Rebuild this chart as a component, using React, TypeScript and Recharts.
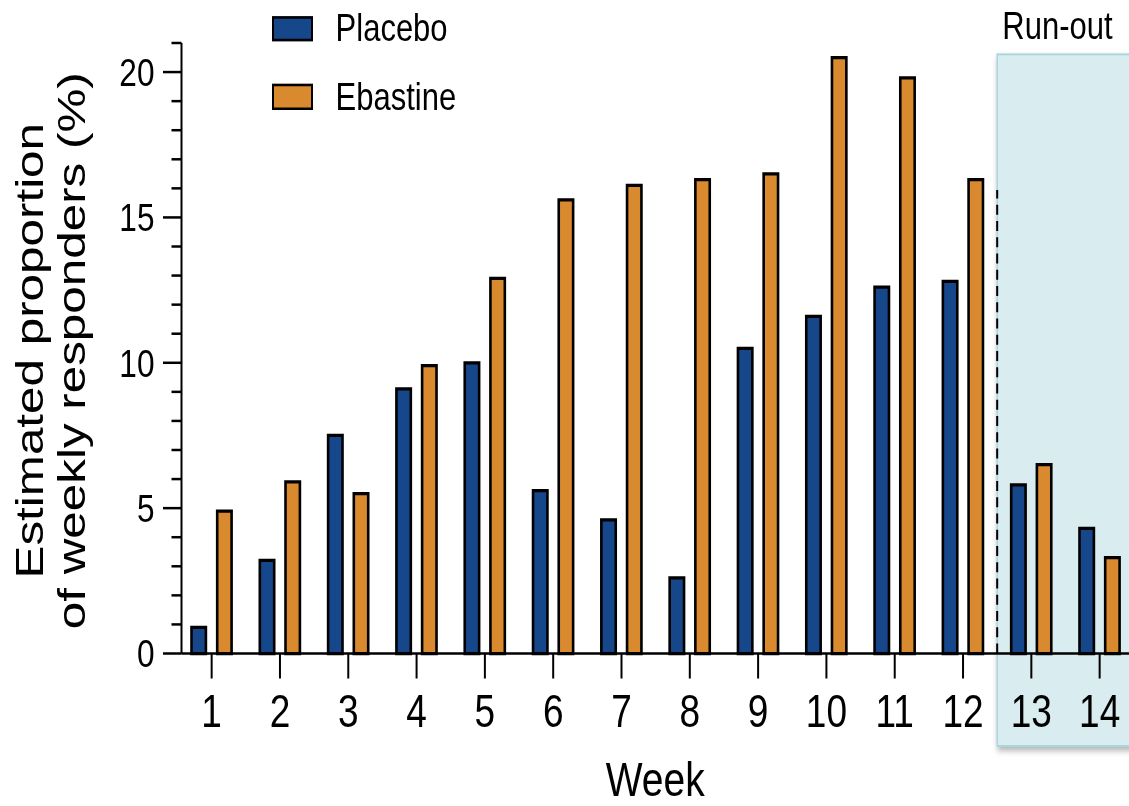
import { BarChart, Bar, XAxis, YAxis, Legend, ReferenceArea, ReferenceLine } from 'recharts'

const weeks = ['1', '2', '3', '4', '5', '6', '7', '8', '9', '10', '11', '12', '13', '14']
const placebo = [0.9, 3.2, 7.5, 9.1, 10.0, 5.6, 4.6, 2.6, 10.5, 11.6, 12.6, 12.8, 5.8, 4.3]
const ebastine = [4.9, 5.9, 5.5, 9.9, 12.9, 15.6, 16.1, 16.3, 16.5, 20.5, 19.8, 16.3, 6.5, 3.3]
const yTicks = [0, 1, 2, 3, 4, 5, 6, 7, 8, 9, 10, 11, 12, 13, 14, 15, 16, 17, 18, 19, 20, 21]
const seriesOrder = ['Placebo', 'Ebastine']

const data = weeks.map((week, i) => ({ week, placebo: placebo[i], ebastine: ebastine[i] }))

const FONT = '"Liberation Sans", Arial, sans-serif'
// the reference picture is stretched vertically, so the chart is drawn flat and scaled
const STRETCH = 1.25

const YTick = (props: any) => {
  const { x, y, payload } = props
  const major = payload.value % 5 === 0
  return (
    <g>
      <line x1={x} x2={x - (major ? 18.5 : 10)} y1={y} y2={y} stroke="#000" strokeWidth={2} />
      {major && (
        <text x={x - 27} y={y} dy={11} textAnchor="end" fontSize={31.6} fontFamily={FONT} fill="#000">
          {payload.value}
        </text>
      )}
    </g>
  )
}

const XTick = (props: any) => {
  const { x, y, payload } = props
  return (
    <text x={x} y={y} dy={36.8} textAnchor="middle" fontSize={37} fontFamily={FONT} fill="#000">
      {payload.value}
    </text>
  )
}

const YTitle = (props: any) => {
  const { viewBox } = props
  const cy = viewBox.y + viewBox.height / 2 + 2
  return (
    <g fontFamily={FONT} fontSize={39.5} fill="#000" textAnchor="middle">
      <text x={43} y={cy} transform={`rotate(-90 43 ${cy})`}>Estimated proportion</text>
      <text x={85} y={cy} transform={`rotate(-90 85 ${cy})`}>of weekly responders (%)</text>
    </g>
  )
}

const RunoutBox = (props: any) => {
  const { x, y, width, height } = props
  return (
    <g>
      <defs>
        <filter id="boxShadow" x="-10%" y="-5%" width="125%" height="115%">
          <feDropShadow dx="1" dy="3" stdDeviation="2.5" floodColor="#000" floodOpacity="0.3" />
        </filter>
      </defs>
      <rect x={x} y={y} width={width} height={height} fill="#d9ecef" stroke="#a7d6db" strokeWidth={1.5} filter="url(#boxShadow)" />
    </g>
  )
}

const renderLegend = (props: any) => {
  const items = [...props.payload].sort(
    (a: any, b: any) => seriesOrder.indexOf(a.value) - seriesOrder.indexOf(b.value)
  )
  return (
    <div style={{ fontFamily: FONT, fontSize: 31, color: '#000' }}>
      {items.map((entry: any) => (
        <div key={entry.value} style={{ display: 'flex', alignItems: 'center', height: 54.4 }}>
          <span
            style={{
              width: 41.6,
              height: 20.6,
              background: entry.color,
              border: '2px solid #000',
              boxSizing: 'border-box',
              display: 'inline-block',
            }}
          />
          <span style={{ marginLeft: 22.3 }}>{entry.value}</span>
        </div>
      ))}
    </div>
  )
}

export default function App() {
  return (
    <div style={{ position: 'absolute', left: 0, top: 0, width: 1129, height: 806, overflow: 'hidden', background: '#fff' }}>
      <div style={{ width: 1129, height: 645, transform: `scaleY(${STRETCH})`, transformOrigin: '0 0' }}>
        <BarChart
          width={1129}
          height={645}
          data={data}
          barSize={14.4}
          barGap={11.3}
          margin={{ top: 34.4, right: 0, bottom: 0, left: 0 }}
        >
          <ReferenceArea
            x1="13"
            x2="14"
            y1={-3.18}
            y2={20.61}
            ifOverflow="visible"
            shape={RunoutBox}
            label={{ value: 'Run-out', position: 'top', offset: 12.5, dx: -8, fontSize: 31, fontFamily: FONT, fill: '#000' }}
          />
          <ReferenceLine
            segment={[{ x: '13', y: 0 }, { x: '13', y: 15.94 }]}
            position="start"
            ifOverflow="visible"
            stroke="#000"
            strokeWidth={2}
            strokeDasharray="8 5"
          />
          <XAxis
            dataKey="week"
            interval={0}
            height={122.2}
            padding={{ left: -4, right: -4.8 }}
            tickSize={20}
            tickLine={{ stroke: '#000', strokeWidth: 2 }}
            axisLine={{ stroke: '#000', strokeWidth: 2 }}
            tick={XTick}
            label={{ value: 'Week', position: 'insideBottom', offset: 8.5, fontSize: 39, fontFamily: FONT, fill: '#000' }}
          />
          <YAxis
            type="number"
            domain={[0, 21]}
            ticks={yTicks}
            interval={0}
            width={181.5}
            tickSize={0}
            tickMargin={0}
            tickLine={false}
            axisLine={{ stroke: '#000', strokeWidth: 2 }}
            tick={YTick}
            label={<YTitle />}
          />
          <Legend
            layout="vertical"
            align="center"
            verticalAlign="middle"
            content={renderLegend}
            wrapperStyle={{ top: -4, left: 271.7, width: 300 }}
          />
          <Bar dataKey="placebo" name="Placebo" fill="#15478a" stroke="#000" strokeWidth={2.6} isAnimationActive={false} />
          <Bar dataKey="ebastine" name="Ebastine" fill="#d9892e" stroke="#000" strokeWidth={2.6} isAnimationActive={false} />
        </BarChart>
      </div>
    </div>
  )
}
